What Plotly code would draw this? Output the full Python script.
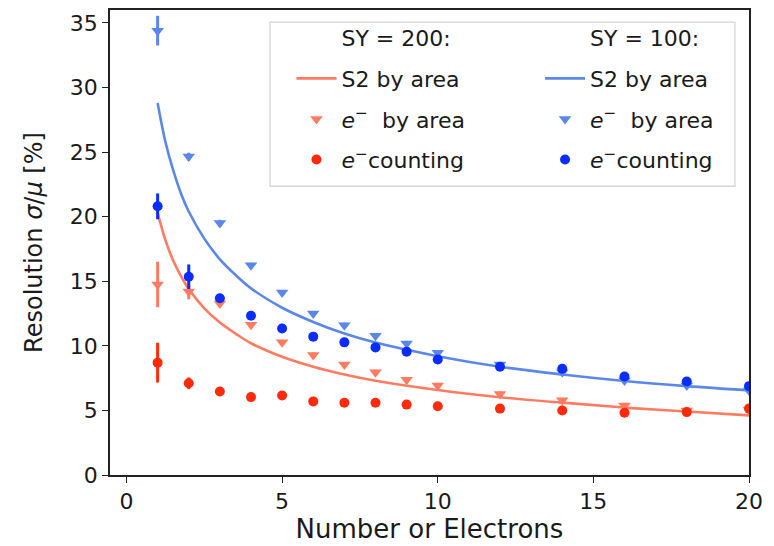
import plotly.graph_objects as go

# ---------------- data ----------------
n_e = [1, 2, 3, 4, 5, 6, 7, 8, 9, 10, 12, 14, 16, 18, 20]

# SY = 200
red_area = [14.75, 14.2, 13.27, 11.63, 10.27, 9.3, 8.55, 7.96, 7.37, 6.93, 6.28, 5.78, 5.39, 5.0, 5.05]
red_area_err = [1.76, 0.6, 0.25, 0.2, 0.2, 0.2, 0.2, 0.2, 0.2, 0.2, 0.2, 0.2, 0.2, 0.2, 0.2]
red_count = [8.7, 7.1, 6.47, 6.03, 6.16, 5.7, 5.6, 5.6, 5.45, 5.32, 5.14, 5.0, 4.82, 4.87, 5.14]
red_count_err = [1.54, 0.45, 0.2, 0.2, 0.15, 0.15, 0.15, 0.15, 0.15, 0.15, 0.15, 0.15, 0.15, 0.15, 0.15]

# SY = 100
blue_area = [34.4, 24.65, 19.51, 16.23, 14.12, 12.5, 11.6, 10.79, 10.19, 9.46, 8.55, 7.96, 7.32, 6.93, 6.55]
blue_area_err = [1.15, 0.3, 0.25, 0.2, 0.2, 0.2, 0.2, 0.2, 0.2, 0.2, 0.2, 0.2, 0.2, 0.2, 0.2]
blue_count = [20.8, 15.35, 13.69, 12.33, 11.34, 10.71, 10.27, 9.88, 9.55, 8.94, 8.38, 8.22, 7.63, 7.24, 6.88]
blue_count_err = [1.0, 0.95, 0.3, 0.2, 0.2, 0.2, 0.2, 0.2, 0.2, 0.2, 0.2, 0.2, 0.2, 0.2, 0.2]

# S2-by-area fit curves
fit_x = [1, 1.25, 1.5, 1.75, 2, 2.5, 3, 3.5, 4, 5, 6, 7, 8, 10, 12, 14, 16, 18, 20]
fit_red = [20.3, 18.2, 16.6, 15.4, 14.4, 12.9, 11.8, 10.95, 10.2, 9.15, 8.38, 7.78, 7.3, 6.58, 6.02, 5.6, 5.22, 4.92, 4.62]
fit_blue = [28.8, 25.8, 23.6, 21.8, 20.4, 18.3, 16.7, 15.5, 14.45, 12.95, 11.85, 10.95, 10.25, 9.2, 8.38, 7.78, 7.28, 6.88, 6.55]

x_ticks = [0, 5, 10, 15, 20]
y_ticks = [0, 5, 10, 15, 20, 25, 30, 35]

# ---------------- style ----------------
C_SALMON = "#ff7c62"
C_RED = "#ff2a0a"
C_CORN = "#5b88e8"
C_BLUE = "#0a2cff"
FONT = "DejaVu Sans"
EM = "<i>e</i><sup>\u2212</sup>"

fig = go.Figure()


def header(name, leg, grp):
    fig.add_trace(go.Scatter(x=[None], y=[None], mode="markers", name=name,
                             marker=dict(color="rgba(0,0,0,0)", size=1),
                             legend=leg, legendgroup=grp, hoverinfo="skip"))


def series(leg, tag, fit_y, area, area_err, count, count_err, c_light, c_dark):
    fig.add_trace(go.Scatter(x=fit_x, y=fit_y, mode="lines", name="S2 by area",
                             line=dict(color=c_light, width=2.6, shape="spline", smoothing=1.0),
                             legend=leg, legendgroup=tag + "a"))
    fig.add_trace(go.Scatter(x=n_e, y=area, mode="markers", name=EM + "\u00a0 by area",
                             marker=dict(symbol="triangle-down", size=11, color=c_light),
                             error_y=dict(type="data", array=area_err, color=c_light,
                                          thickness=3, width=0),
                             legend=leg, legendgroup=tag + "b"))
    fig.add_trace(go.Scatter(x=n_e, y=count, mode="markers", name=EM + "counting",
                             marker=dict(symbol="circle", size=10, color=c_dark),
                             error_y=dict(type="data", array=count_err, color=c_dark,
                                          thickness=3, width=0),
                             legend=leg, legendgroup=tag + "c"))


header("SY = 200:", "legend", "r0")
series("legend", "r", fit_red, red_area, red_area_err, red_count, red_count_err, C_SALMON, C_RED)
header("SY = 100:", "legend2", "b0")
series("legend2", "b", fit_blue, blue_area, blue_area_err, blue_count, blue_count_err, C_CORN, C_BLUE)

axis_common = dict(showline=True, linecolor="#222", linewidth=1.6, mirror=True,
                   ticks="outside", ticklen=6, tickwidth=1.4, tickcolor="#222",
                   showgrid=False, zeroline=False,
                   tickfont=dict(family=FONT, size=22, color="#1a1a1a"))

legend_common = dict(bgcolor="rgba(0,0,0,0)", borderwidth=0, xanchor="left", yanchor="top",
                     font=dict(family=FONT, size=22, color="#1a1a1a"),
                     traceorder="grouped", tracegroupgap=9, itemwidth=40)

fig.update_layout(
    width=774, height=546,
    margin=dict(l=110, r=25, t=8, b=71),
    paper_bgcolor="white", plot_bgcolor="white",
    showlegend=True,
    xaxis=dict(range=[-0.53, 20], tickvals=x_ticks,
               title=dict(text="Number or Electrons", font=dict(family=FONT, size=26, color="#1a1a1a"),
                          standoff=6),
               **axis_common),
    yaxis=dict(range=[0, 36], tickvals=y_ticks,
               title=dict(text="Resolution <i>\u03c3</i>/<i>\u03bc</i> [%]",
                          font=dict(family=FONT, size=24, color="#1a1a1a"), standoff=20),
               **axis_common),
    legend=dict(x=0.284, y=0.985, **legend_common),
    legend2=dict(x=0.673, y=0.985, **legend_common),
    shapes=[dict(type="rect", xref="paper", yref="paper",
                 x0=0.2504, x1=0.978, y0=0.621, y1=0.974,
                 line=dict(color="#d6d6d6", width=1.3),
                 fillcolor="rgba(255,255,255,0.8)", layer="above")],
)

fig.write_html("out.html")
